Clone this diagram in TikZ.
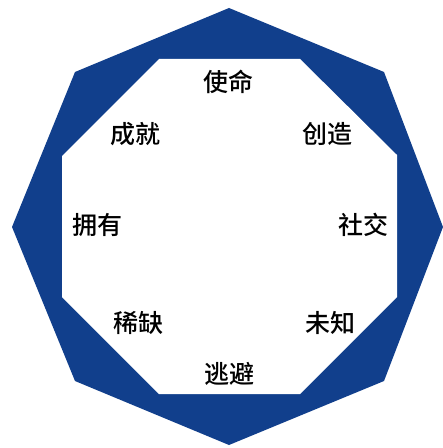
\documentclass[tikz,border=0pt]{standalone}
\usepackage{fontspec}
\newfontfamily\cjk{Noto Sans CJK SC}[BoldFont={Noto Sans CJK SC Medium}]
\definecolor{octblue}{RGB}{17,63,140}
\begin{document}
\begin{tikzpicture}[x=1bp,y=-1bp,
  lbl/.style={font=\cjk\bfseries\fontsize{25bp}{28bp}\selectfont, text=black, inner sep=0pt}]
\useasboundingbox (0,0) rectangle (443,448);
\fill[white] (0,0) rectangle (443,448);
% outer blue polygon
\fill[octblue] (229,8) -- (384,72) -- (443,227) -- (384,381) -- (229,445)
  -- (75,381) -- (12,227) -- (75,72) -- cycle;
% inner white octagon
\fill[white] (159,59) -- (300,59) -- (397,155) -- (397,297) -- (300,394)
  -- (159,394) -- (62,297) -- (62,156) -- cycle;
\node[lbl] (shiming) at (228,82) {使命};
\node[lbl] (chengjiu) at (135,134) {成就};
\node[lbl] (chuangzao) at (327,134) {创造};
\node[lbl] (yongyou) at (97,225) {拥有};
\node[lbl] (shejiao) at (363,225) {社交};
\node[lbl] (xique) at (138,323) {稀缺};
\node[lbl] (weizhi) at (330,323) {未知};
\node[lbl] (taobi) at (229,374) {逃避};
\end{tikzpicture}
\end{document}
